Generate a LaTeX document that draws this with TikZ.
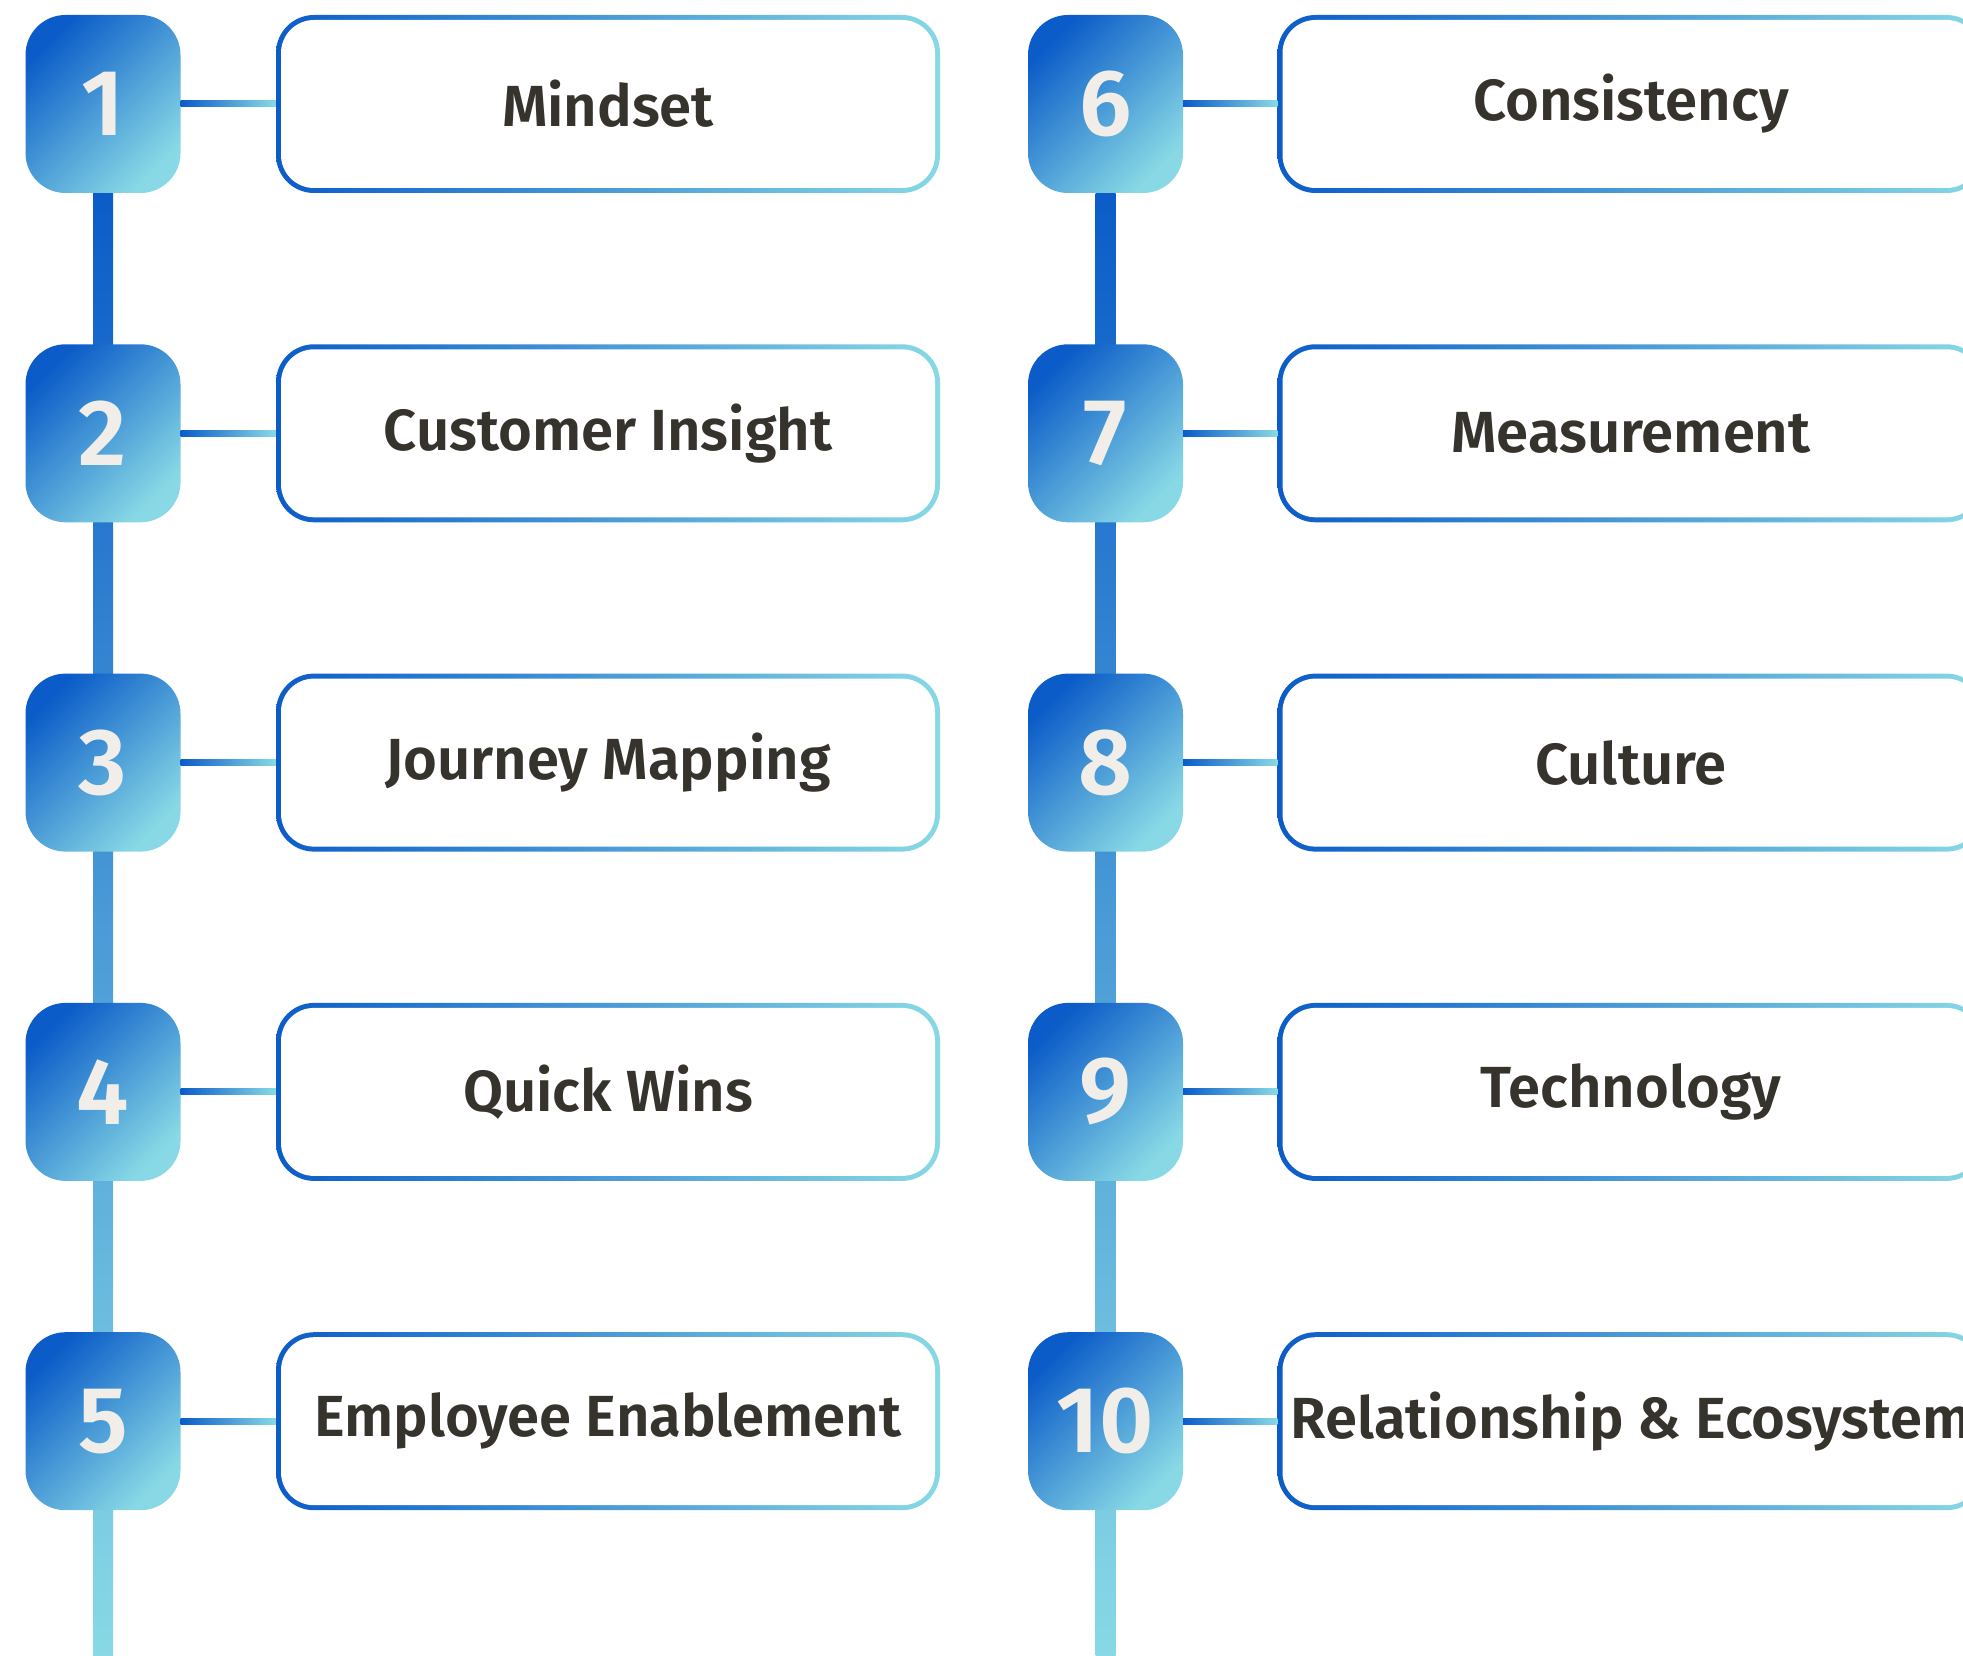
\documentclass[tikz,border=0pt]{standalone}
\usepackage{fontspec}
\setmainfont{Fira Sans}[BoldFont=Fira Sans SemiBold]
\usetikzlibrary{calc,backgrounds}

\definecolor{deepblue}{HTML}{0B5CC8}
\definecolor{paleblue}{HTML}{88D9E5}
\definecolor{labelink}{HTML}{36322C}
\definecolor{digitwhite}{HTML}{F1EEEA}

\tikzset{
  badge/.style={rounded corners=40pt, minimum width=155pt, minimum height=178pt,
    inner sep=0pt, top color=deepblue, bottom color=paleblue, shading angle=45,
    text=digitwhite, font=\fontsize{94}{100}\selectfont\bfseries},
  topic/.style={rounded corners=38pt, minimum height=178pt, inner sep=0pt,
    text=labelink, font=\fontsize{58}{66}\selectfont\bfseries,
    path picture={
      \shade[left color=deepblue, right color=paleblue]
        (path picture bounding box.south west) rectangle (path picture bounding box.north east);
      \fill[white, rounded corners=33pt]
        ([shift={(5pt,5pt)}]path picture bounding box.south west) rectangle
        ([shift={(-5pt,-5pt)}]path picture bounding box.north east);
    }},
  link/.style={left color=deepblue, right color=paleblue},
}

\begin{document}
\begin{tikzpicture}[x=1pt,y=-1pt]
  \useasboundingbox (0,0) rectangle (1963,1656);
  \clip (0,0) rectangle (1963,1656);

  % two columns of five steps
  \foreach \lab [count=\i] in {Mindset, Customer Insight, Journey Mapping, Quick Wins,
      Employee Enablement, Consistency, Measurement, Culture, Technology,
      Relationship \& Ecosystem}{
    \pgfmathtruncatemacro\col{(\i-1)/5}
    \pgfmathtruncatemacro\row{mod(\i-1,5)}
    \node[badge] (b\i) at ({103+1002.5*\col},{104+329.3*\row}) {\i};
    \node[topic, minimum width={664+43*\col}] (t\i) at ({608+1023*\col},{104+329.3*\row}) {\lab};
    \path[link] ([yshift=3pt]b\i.east) rectangle ([yshift=-3pt]t\i.west);
  }

  % spines behind the badges
  \coordinate (endL) at (103,1656);
  \coordinate (endR) at (1105.5,1656);
  \begin{scope}[on background layer]
    \path[top color=deepblue, bottom color=paleblue]
      ([xshift=-10pt]b1.south) rectangle ([xshift=10pt]endL);
    \path[top color=deepblue, bottom color=paleblue]
      ([xshift=-10pt]b6.south) rectangle ([xshift=10pt]endR);
  \end{scope}
\end{tikzpicture}
\end{document}
